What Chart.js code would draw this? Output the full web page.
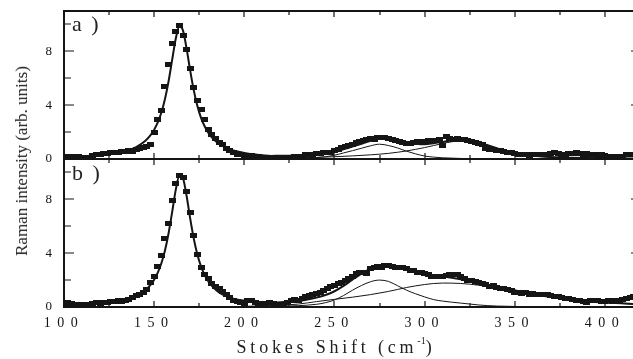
<!DOCTYPE html>
<html>
<head>
<meta charset="utf-8">
<script src="https://cdn.jsdelivr.net/npm/chart.js@4/dist/chart.umd.min.js"></script>
<style>
  body{margin:0;width:633px;height:359px;overflow:hidden;background:#fff;position:relative;font-family:'Liberation Serif','Times New Roman',serif;color:#222}
  #wrap{position:absolute;left:0;top:0;width:660px;height:359px}
  #ytitle{position:absolute;left:22px;top:161px;transform:translate(-50%,-50%) rotate(-90deg);white-space:nowrap;font-size:17px}
  #xtitle{position:absolute;left:336px;top:338px;transform:translateX(-50%);white-space:nowrap;font-size:18px;line-height:18px;letter-spacing:3.8px}
  #xtitle sup{font-size:10px;letter-spacing:0;vertical-align:9px;line-height:0}
  .panel{position:absolute;left:72px;font-size:22px;line-height:22px;letter-spacing:2px}
</style>
</head>
<body>
<div id="wrap"><canvas id="chart"></canvas></div>
<div id="ytitle">Raman intensity (arb. units)</div>
<div id="xtitle">Stokes Shift (cm<sup>-1</sup>)</div>
<div class="panel" style="top:13px">a )</div>
<div class="panel" style="top:162px">b )</div>
<script>
// ================= DATOS =================
const xLabels = [100,150,200,250,300,350,400];
const xMarks = [100,125,150,175,200,225,250,275,300,325,350,375,400];
const yLabels = [0,4,8];
const yMarks = [0,2,4,6,8,10];

// desplazamiento Raman de los puntos medidos (cm-1)
const shift = [
  100,102,104,106,108,110,112,114,116,118,
  120,122,124,126,128,130,132,134,136,138,
  140,142,144,146,148,150,152,154,156,158,
  160,162,164,166,168,170,172,174,176,178,
  180,182,184,186,188,190,192,194,196,198,
  200,202,204,206,208,210,212,214,216,218,
  220,222,224,226,228,230,232,234,236,238,
  240,242,244,246,248,250,252,254,256,258,
  260,262,264,266,268,270,272,274,276,278,
  280,282,284,286,288,290,292,294,296,298,
  300,302,304,306,308,310,312,314,316,318,
  320,322,324,326,328,330,332,334,336,338,
  340,342,344,346,348,350,352,354,356,358,
  360,362,364,366,368,370,372,374,376,378,
  380,382,384,386,388,390,392,394,396,398,
  400,402,404,406,408,410,412,414,416,418,
  420
];

// panel a) medidas
const ramanA = [
  0.12,0.18,0.22,0.2,0.18,0.12,0.1,0.12,0.25,0.3,
  0.32,0.38,0.42,0.45,0.5,0.52,0.58,0.55,0.6,0.58,
  0.7,0.78,0.85,0.95,1.05,1.95,2.95,3.6,5.4,7.05,
  8.55,9.45,9.9,9.2,8.15,6.75,5.35,4.35,3.65,2.9,
  2.2,1.85,1.5,1.25,1.05,0.8,0.6,0.45,0.35,0.3,
  0.25,0.28,0.25,0.2,0.15,0.12,0.1,0.12,0.1,0.08,
  0.1,0.12,0.1,0.12,0.15,0.15,0.22,0.3,0.3,0.35,
  0.4,0.42,0.45,0.48,0.5,0.62,0.7,0.85,0.9,1.0,
  1.05,1.2,1.3,1.35,1.45,1.5,1.48,1.58,1.62,1.6,
  1.5,1.42,1.35,1.3,1.2,1.15,1.18,1.25,1.3,1.28,
  1.3,1.35,1.4,1.38,1.42,0.98,1.65,1.5,1.45,1.5,
  1.48,1.45,1.38,1.3,1.2,1.12,1.05,0.8,0.72,0.7,
  0.66,0.62,0.55,0.5,0.45,0.42,0.35,0.3,0.3,0.28,
  0.3,0.32,0.3,0.3,0.35,0.42,0.45,0.4,0.35,0.32,
  0.4,0.42,0.45,0.38,0.35,0.38,0.32,0.3,0.28,0.3,
  0.25,0.22,0.2,0.22,0.2,0.2,0.3,0.35,0.3,0.28,
  0.3
];

// panel b) medidas
const ramanB = [
  0.25,0.3,0.28,0.22,0.2,0.18,0.2,0.22,0.25,0.3,
  0.28,0.32,0.35,0.4,0.42,0.45,0.42,0.45,0.55,0.7,
  0.85,0.95,1.05,1.3,1.8,2.3,3.0,3.85,5.1,6.2,
  7.9,9.2,9.8,9.6,8.6,7.0,5.3,3.9,2.95,2.45,
  2.1,1.75,1.55,1.35,1.15,0.95,0.7,0.5,0.38,0.3,
  0.25,0.45,0.5,0.35,0.25,0.22,0.25,0.3,0.28,0.2,
  0.18,0.22,0.35,0.5,0.55,0.52,0.6,0.75,0.85,0.95,
  1.0,1.1,1.25,1.4,1.55,1.6,1.75,1.85,2.0,2.1,
  2.3,2.5,2.55,2.6,2.5,2.85,2.95,3.0,2.95,3.05,
  3.1,3.0,2.95,2.95,2.9,2.85,2.75,2.7,2.6,2.55,
  2.5,2.45,2.3,2.25,2.3,2.25,2.35,2.4,2.45,2.4,
  2.3,2.1,2.0,1.95,1.9,1.85,1.75,1.65,1.55,1.6,
  1.45,1.4,1.35,1.3,1.2,1.1,1.05,1.0,1.05,0.95,
  1.0,0.9,0.95,0.9,0.95,0.85,0.8,0.75,0.7,0.65,
  0.6,0.55,0.5,0.45,0.4,0.35,0.45,0.5,0.45,0.4,
  0.42,0.45,0.4,0.45,0.5,0.55,0.65,0.7,0.75,0.78,
  0.8
];

// ajuste total (linea gruesa)
const fitX = [
  100,110,120,130,135,140,145,148,150,152,154,156,158,160,162,164,166,168,170,172,
  174,176,178,180,183,186,190,195,200,205,210,215,220,225,230,235,240,245,250,255,
  260,265,270,275,280,285,290,295,300,305,310,315,320,325,330,335,340,345,350,355,
  360,370,380,390,400,420
];
const fitA = [
  0.14,0.19,0.29,0.47,0.63,0.89,1.34,1.77,2.18,2.72,3.46,4.46,5.78,7.38,8.96,9.86,9.54,8.2,6.56,5.08,
  3.93,3.06,2.43,1.96,1.46,1.13,0.83,0.59,0.45,0.35,0.28,0.23,0.25,0.25,0.27,0.28,0.32,0.4,0.53,0.72,
  0.92,1.13,1.35,1.51,1.47,1.36,1.22,1.14,1.1,1.17,1.27,1.37,1.42,1.38,1.22,1.02,0.81,0.6,0.44,0.33,
  0.24,0.15,0.1,0.07,0.05,0.04
];
const fitB = [
  0.13,0.18,0.27,0.44,0.59,0.83,1.25,1.65,2.03,2.55,3.25,4.2,5.48,7.07,8.72,9.77,9.56,8.25,6.57,5.06,
  3.88,3.01,2.38,1.91,1.42,1.09,0.8,0.57,0.48,0.39,0.34,0.31,0.36,0.39,0.45,0.56,0.7,0.89,1.17,1.57,
  2.04,2.48,2.85,3.08,3.1,2.94,2.74,2.58,2.45,2.32,2.26,2.17,2.06,1.93,1.79,1.64,1.51,1.37,1.24,1.08,
  0.97,0.75,0.57,0.43,0.33,0.2
];

// componentes (lineas finas)
const c1aX = [225,235,240,245,250,255,260,265,270,275,280,285,290,295,300,305,310,320,330,340];
const c1aY = [0.02,0.06,0.1,0.17,0.28,0.45,0.62,0.8,0.98,1.1,1.0,0.82,0.58,0.38,0.22,0.14,0.09,0.04,0.02,0.01];
const c2aX = [220,230,240,250,260,270,280,290,300,305,310,315,320,325,330,335,340,345,350,360,370,385,400,420];
const c2aY = [0.06,0.09,0.12,0.17,0.23,0.31,0.42,0.6,0.85,1.0,1.15,1.28,1.35,1.32,1.18,0.98,0.78,0.58,0.42,0.22,0.13,0.07,0.04,0.03];
const c1bX = [220,230,240,245,250,255,260,265,270,275,280,285,290,295,300,305,310,315,320,325,330,340,350];
const c1bY = [0.05,0.1,0.2,0.32,0.52,0.85,1.25,1.6,1.88,2.0,1.9,1.58,1.25,0.98,0.75,0.55,0.44,0.36,0.29,0.22,0.15,0.07,0.04];
const c2bX = [200,210,220,230,240,250,260,270,280,290,300,310,320,330,340,350,360,370,380,390,400,420];
const c2bY = [0.05,0.08,0.13,0.22,0.4,0.57,0.73,0.92,1.16,1.45,1.67,1.78,1.75,1.62,1.42,1.18,0.95,0.74,0.56,0.42,0.32,0.2];

// ================= ESTILO =================
const INK = "#151515";
const FONT = "'Liberation Serif','Times New Roman',serif";

// marcador rectangular de los puntos
const mark = document.createElement("canvas");
mark.width = 7; mark.height = 5;
const mctx = mark.getContext("2d");
mctx.fillStyle = INK;
mctx.fillRect(0, 0, 7, 5);

const pts = (xs, ys) => xs.map((x, i) => ({x, y: ys[i]}));

function lineSet(label, xs, ys, axis, width){
  return {
    label, data: pts(xs, ys), yAxisID: axis,
    borderColor: INK, borderWidth: width, pointRadius: 0,
    cubicInterpolationMode: "monotone", fill: false, order: 0
  };
}
function pointSet(label, ys, axis){
  return {
    label, data: pts(shift, ys), yAxisID: axis, showLine: false,
    pointStyle: mark, pointRadius: 3, order: 1
  };
}

// ================= MARCO Y MARCAS =================
function seg(ctx, x0, y0, x1, y1){ ctx.moveTo(x0, y0); ctx.lineTo(x1, y1); }

const frame = {
  id: "frame",
  beforeDraw(chart){ chart.ctx.letterSpacing = "0px"; },
  afterDatasetsDraw(chart){
    const {ctx, chartArea: a, scales} = chart;
    const x = scales.x, ya = scales.ya, yb = scales.yb;
    const mid = Math.round(ya.getPixelForValue(0));
    const L = Math.round(a.left), R = Math.round(a.right);
    const T = Math.round(a.top), B = Math.round(a.bottom);
    ctx.save();
    // marco: rectangulos rellenos de 2 px
    ctx.fillStyle = INK;
    ctx.fillRect(L - 1, T - 1, R - L + 2, 2);
    ctx.fillRect(L - 1, mid - 1, R - L + 2, 2);
    ctx.fillRect(L - 1, B - 1, R - L + 2, 2);
    ctx.fillRect(L - 1, T - 1, 2, B - T + 2);
    ctx.fillRect(R - 1, T - 1, 2, B - T + 2);
    ctx.strokeStyle = INK;
    ctx.lineWidth = 1.2;
    ctx.beginPath();
    xMarks.forEach(v => {
      const p = Math.round(x.getPixelForValue(v));
      const len = xLabels.includes(v) ? 6 : 4;
      seg(ctx, p, T, p, T + len);
      seg(ctx, p, mid - len, p, mid + len);
      seg(ctx, p, B, p, B - len);
    });
    [ya, yb].forEach(s => yMarks.forEach(v => {
      const p = Math.round(s.getPixelForValue(v));
      const len = yLabels.includes(v) ? 10 : 7;
      seg(ctx, L, p, L + len, p);
      seg(ctx, R, p, R - len, p);
    }));
    ctx.stroke();
    ctx.restore();
    ctx.letterSpacing = "6.5px";  // etiquetas del eje x espaciadas
  },
  afterDraw(chart){ chart.ctx.letterSpacing = "0px"; }
};

// ================= GRAFICA =================
const yScale = {
  type: "linear", min: 0, max: 11, position: "left",
  stack: "paneles", stackWeight: 1,
  grid: {display: false, drawTicks: false}, border: {display: false},
  afterBuildTicks: s => { s.ticks = yLabels.map(v => ({value: v})); },
  afterFit: s => { s.width = 64; s.paddingTop = 0; s.paddingBottom = 0; },
  ticks: {color: INK, padding: 12, font: {family: FONT, size: 13}}
};

new Chart(document.getElementById("chart"), {
  type: "line",
  data: {
    datasets: [
      lineSet("ajuste a", fitX, fitA, "ya", 2),
      lineSet("pico 1 a", c1aX, c1aY, "ya", 1),
      lineSet("pico 2 a", c2aX, c2aY, "ya", 1),
      pointSet("datos a", ramanA, "ya"),
      lineSet("ajuste b", fitX, fitB, "yb", 2),
      lineSet("pico 1 b", c1bX, c1bY, "yb", 1),
      lineSet("pico 2 b", c2bX, c2bY, "yb", 1),
      pointSet("datos b", ramanB, "yb")
    ]
  },
  options: {
    responsive: true,
    maintainAspectRatio: false,
    animation: false,
    devicePixelRatio: 1,
    layout: {padding: {left: 0, top: 11, right: 19, bottom: 24}},
    plugins: {legend: {display: false}, tooltip: {enabled: false}},
    scales: {
      x: {
        type: "linear", min: 100, max: 420, position: "bottom",
        grid: {display: false, drawTicks: false}, border: {display: false},
        afterBuildTicks: s => { s.ticks = xLabels.map(v => ({value: v})); },
        afterFit: s => { s.height = 28; },
        ticks: {color: INK, padding: 8, autoSkip: false, maxRotation: 0, z: 1,
                font: {family: FONT, size: 14}}
      },
      // el eje declarado despues queda arriba en la pila
      yb: {...yScale},
      ya: {...yScale}
    }
  },
  plugins: [frame]
});
</script>
</body>
</html>
